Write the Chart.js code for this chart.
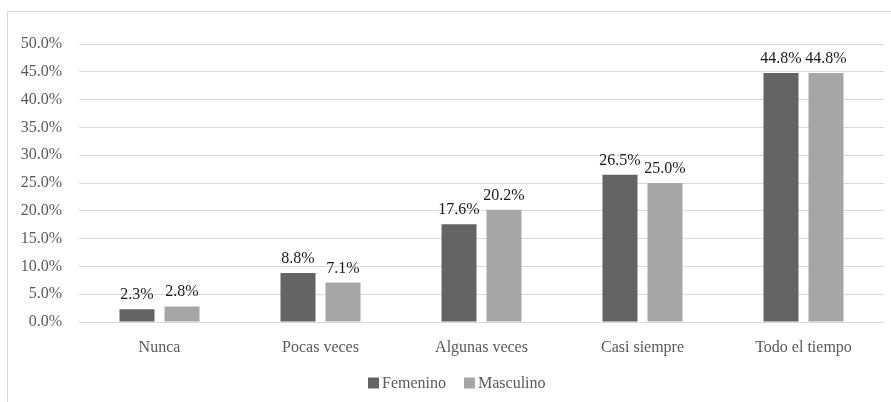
<!DOCTYPE html>
<html>
<head>
<meta charset="utf-8">
<script src="https://cdn.jsdelivr.net/npm/chart.js@4/dist/chart.umd.min.js"></script>
<style>
  html, body { margin: 0; padding: 0; background: #ffffff; }
  #wrap { position: relative; width: 891px; height: 402px; overflow: hidden; }
  #frame { position: absolute; left: 7px; top: 11px; width: 1000px; height: 600px; border: 1px solid #d9d9d9; box-sizing: border-box; }
  canvas { position: absolute; left: 0; top: 0; }
</style>
</head>
<body>
<div id="wrap">
  <div id="frame"></div>
  <canvas id="c" width="891" height="402"></canvas>
</div>
<script>
const categories = ["Nunca", "Pocas veces", "Algunas veces", "Casi siempre", "Todo el tiempo"];
const femenino = [2.3, 8.8, 17.6, 26.5, 44.8];
const masculino = [2.8, 7.1, 20.2, 25.0, 44.8];
const seriesNames = ["Femenino", "Masculino"];
const yMax = 50;
const yStep = 5;

const FONT = "'Liberation Serif'";
Chart.defaults.font.family = FONT;

const dataLabels = {
  id: 'dataLabels',
  afterDatasetsDraw(chart) {
    const ctx = chart.ctx;
    ctx.save();
    ctx.font = "16px " + FONT;
    ctx.fillStyle = "#1a1a1a";
    ctx.textAlign = "center";
    ctx.textBaseline = "alphabetic";
    chart.data.datasets.forEach((ds, i) => {
      const meta = chart.getDatasetMeta(i);
      meta.data.forEach((bar, j) => {
        ctx.fillText(ds.data[j].toFixed(1) + "%", bar.x, bar.y - 10);
      });
    });
    ctx.restore();
  }
};

const customLegend = {
  id: 'customLegend',
  afterDraw(chart) {
    const ctx = chart.ctx;
    ctx.save();
    ctx.font = "16px " + FONT;
    ctx.textBaseline = "middle";
    ctx.textAlign = "left";
    let x = 368;
    const y = 383;
    chart.data.datasets.forEach((ds) => {
      ctx.fillStyle = ds.backgroundColor;
      ctx.fillRect(x, y - 5.5, 11, 11);
      x += 14;
      ctx.fillStyle = "#595959";
      ctx.fillText(ds.label, x, y + 1);
      x += ctx.measureText(ds.label).width + 18;
    });
    ctx.restore();
  }
};

new Chart(document.getElementById('c'), {
  type: 'bar',
  data: {
    labels: categories,
    datasets: [
      { label: seriesNames[0], data: femenino, backgroundColor: "#646464", barPercentage: 0.778, categoryPercentage: 0.559 },
      { label: seriesNames[1], data: masculino, backgroundColor: "#a6a6a6", barPercentage: 0.778, categoryPercentage: 0.559 }
    ]
  },
  options: {
    responsive: false,
    animation: false,
    devicePixelRatio: 1,
    layout: { padding: { top: 44, right: 7, left: 0, bottom: 0 } },
    plugins: {
      legend: { display: false },
      tooltip: { enabled: false }
    },
    scales: {
      x: {
        grid: { display: false, drawTicks: false },
        border: { display: false },
        ticks: { color: "#595959", font: { family: FONT, size: 16 }, padding: 16 },
        afterFit(scale) { scale.height = 80; }
      },
      y: {
        min: 0,
        max: yMax,
        ticks: {
          stepSize: yStep,
          color: "#595959",
          font: { family: FONT, size: 16 },
          padding: 17,
          callback: (v) => v.toFixed(1) + "%"
        },
        grid: { color: "#d9d9d9", lineWidth: 1, drawTicks: false },
        border: { display: false },
        afterFit(scale) { scale.width = 79; }
      }
    }
  },
  plugins: [dataLabels, customLegend]
});
</script>
</body>
</html>
